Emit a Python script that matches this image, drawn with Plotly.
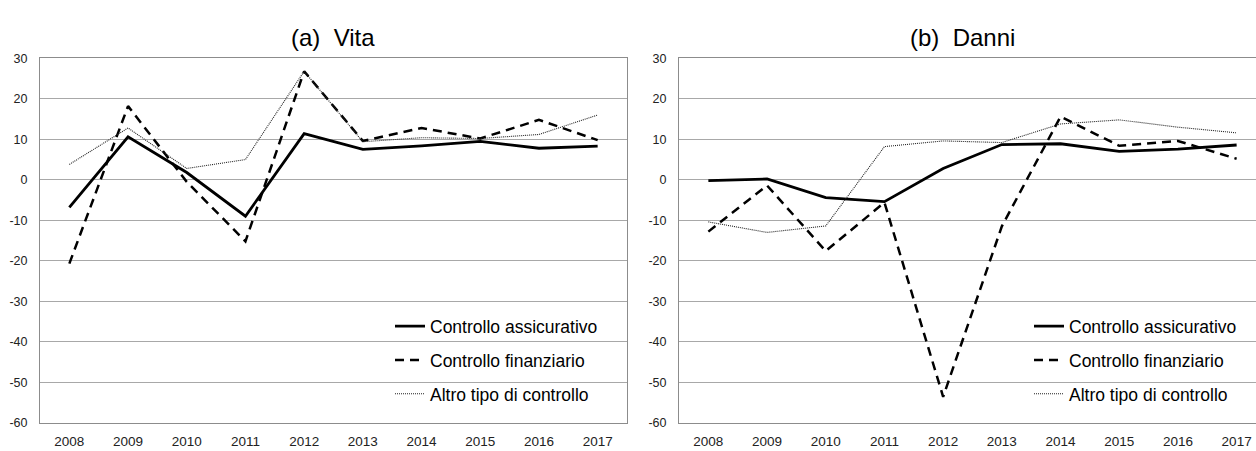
import plotly.graph_objects as go

years = ["2008", "2009", "2010", "2011", "2012", "2013", "2014", "2015", "2016", "2017"]

series_names = ["Controllo assicurativo", "Controllo finanziario", "Altro tipo di controllo"]

# (a) Vita
vita_assicurativo = [-6.8, 10.6, 1.8, -9.0, 11.4, 7.5, 8.4, 9.5, 7.8, 8.3]
vita_finanziario = [-20.7, 18.2, -0.5, -15.2, 26.8, 9.6, 12.8, 10.2, 14.8, 9.8]
vita_altro = [3.8, 12.8, 2.8, 5.0, 26.8, 9.4, 10.4, 10.2, 11.2, 16.0]

# (b) Danni
danni_assicurativo = [-0.2, 0.2, -4.4, -5.4, 2.8, 8.7, 8.9, 7.0, 7.6, 8.6]
danni_finanziario = [-12.8, -1.4, -17.6, -5.6, -53.6, -11.5, 15.6, 8.4, 9.6, 5.2]
danni_altro = [-10.4, -13.0, -11.4, 8.2, 9.6, 9.2, 13.8, 14.8, 13.0, 11.6]

y_tickvals = [30, 20, 10, 0, -10, -20, -30, -40, -50, -60]
y_ticktext = ["30", "20", "10", "0", "-10", "-20", "-30", "-40", "-50", "-60"]

titles = ["(a)  Vita", "(b)  Danni"]

FONT = "Arial, 'Liberation Sans', sans-serif"
styles = [
    dict(color="#000000", width=2.8, dash="solid"),
    dict(color="#000000", width=2.5, dash="9px,6px"),
    dict(color="#222222", width=1.1, dash="1px,1px"),
]

fig = go.Figure()

panels = [
    ([vita_assicurativo, vita_finanziario, vita_altro], "x", "y", "legend"),
    ([danni_assicurativo, danni_finanziario, danni_altro], "x2", "y2", "legend2"),
]
for data, xa, ya, lg in panels:
    for i, (vals, name) in enumerate(zip(data, series_names)):
        fig.add_trace(go.Scatter(
            x=years, y=vals, name=name, mode="lines",
            line=styles[i], xaxis=xa, yaxis=ya, legend=lg,
            legendgroup=f"{lg}_{i}", showlegend=True,
        ))

W, H = 1256, 451
top_px, bot_px = 53, 429
ydom = [1 - bot_px / H, 1 - top_px / H]

axis_common = dict(
    type="category", showgrid=False, ticks="", zeroline=False,
    tickfont=dict(family=FONT, size=13.5, color="#222222"),
    showline=True, linecolor="#8c8c8c", linewidth=1,
)
yaxis_common = dict(
    range=[-60, 30], tickvals=y_tickvals, ticktext=y_ticktext,
    showgrid=True, gridcolor="#a8a8a8", gridwidth=1, zeroline=False,
    tickfont=dict(family=FONT, size=12.5, color="#222222"),
    showline=True, linecolor="#8c8c8c", linewidth=1, ticks="",
    ticklabelstandoff=9,
)

legend_common = dict(
    xanchor="left", yanchor="top", bgcolor="rgba(0,0,0,0)",
    font=dict(family=FONT, size=17.5, color="#000000"),
    tracegroupgap=8, itemwidth=30, borderwidth=0,
)

fig.update_layout(
    width=W, height=H,
    margin=dict(l=0, r=0, t=0, b=0),
    paper_bgcolor="white", plot_bgcolor="white",
    font=dict(family=FONT, color="#000000"),
    xaxis=dict(domain=[40 / W, 627 / W], range=[-0.5, 9.5], mirror=True,
               anchor="y", ticklabelstandoff=6, **axis_common),
    yaxis=dict(domain=ydom, anchor="x", mirror=True, **yaxis_common),
    xaxis2=dict(domain=[679 / W, 1.0], range=[-0.5, 9.33], mirror=True,
                anchor="y2", ticklabelstandoff=6, **axis_common),
    yaxis2=dict(domain=ydom, anchor="x2", mirror=False, **yaxis_common),
    legend=dict(x=390 / W, y=1 - 311 / H, **legend_common),
    legend2=dict(x=1029 / W, y=1 - 311 / H, **legend_common),
    annotations=[
        dict(text=titles[0], x=333 / W, y=1 - 31 / H, xref="paper", yref="paper",
             showarrow=False, xanchor="center", yanchor="middle",
             font=dict(family=FONT, size=24, color="#000000")),
        dict(text=titles[1], x=962 / W, y=1 - 31 / H, xref="paper", yref="paper",
             showarrow=False, xanchor="center", yanchor="middle",
             font=dict(family=FONT, size=24, color="#000000")),
    ],
)

fig.write_html(
    "out.html",
    config={"displayModeBar": False},
    post_script="document.body.style.margin='0';document.body.style.overflow='hidden';",
)
